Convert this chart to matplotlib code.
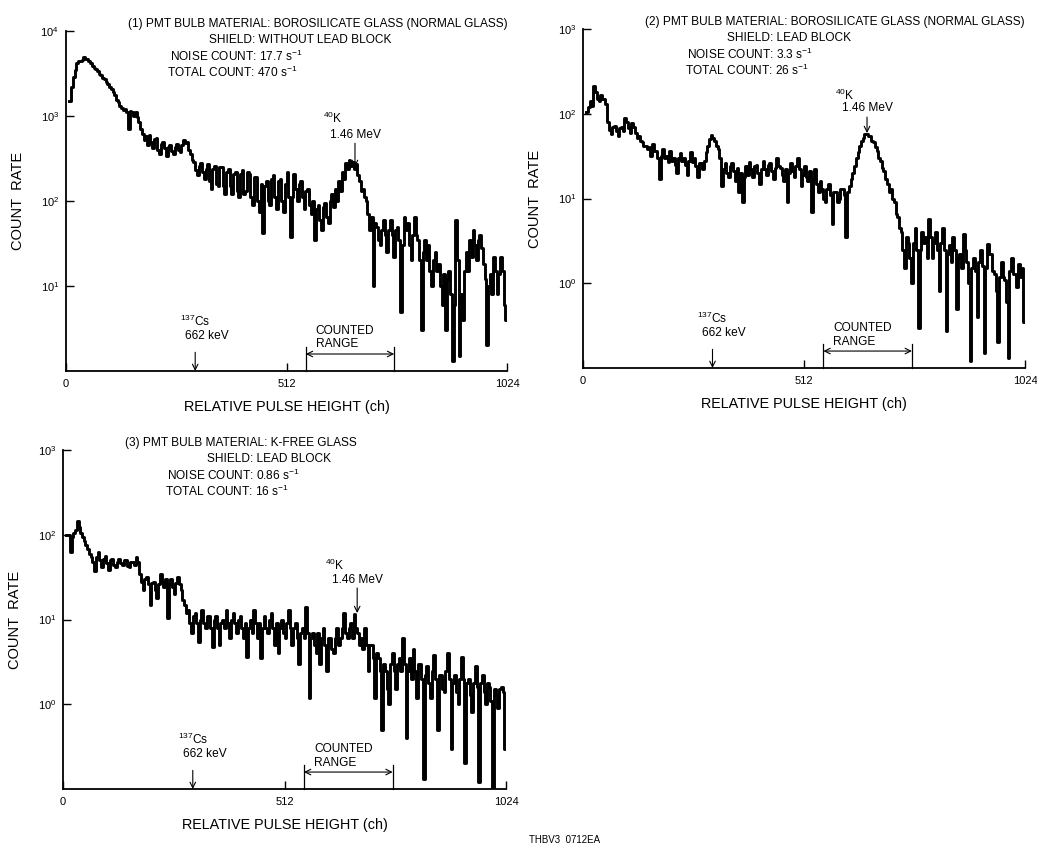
import numpy as np
import matplotlib
matplotlib.use("Agg")
import matplotlib.pyplot as plt
from matplotlib.transforms import blended_transform_factory

plt.rcParams['font.family'] = ['Liberation Sans', 'DejaVu Sans']
plt.rcParams['mathtext.fontset'] = 'custom'
plt.rcParams['mathtext.rm'] = 'Liberation Sans'
plt.rcParams['mathtext.it'] = 'Liberation Sans:italic'
plt.rcParams['mathtext.bf'] = 'Liberation Sans:bold'
plt.rcParams['mathtext.default'] = 'regular'

# spectra, 4 channel bins starting at ch 8
bin_start = 8
bin_width = 4

counts_1 = [1500, 2200, 2900, 3500, 4200, 4400, 4400, 4600, 4900, 4700, 4700, 4400, 4200, 3900, 3700, 3600,
            3400, 3100, 3000, 2800, 2700, 2500, 2400, 2200, 2100, 1900, 1750, 1550, 1450, 1300, 1250, 1180,
            1200, 1100, 700, 1150, 1120, 1000, 1100, 980, 850, 700, 620, 520, 580, 450, 600, 500,
            420, 540, 550, 400, 360, 470, 500, 420, 340, 430, 460, 390, 360, 430, 470, 400,
            380, 450, 520, 480, 490, 400, 360, 300, 290, 230, 200, 260, 280, 220, 180, 240,
            270, 170, 140, 240, 260, 160, 150, 250, 250, 150, 120, 220, 240, 150, 120, 210,
            220, 130, 110, 210, 230, 120, 130, 220, 210, 110, 90, 190, 190, 100, 75, 160,
            42, 150, 170, 100, 90, 180, 200, 110, 80, 170, 180, 100, 75, 160, 220, 110,
            38, 110, 210, 140, 100, 160, 170, 110, 80, 130, 140, 90, 70, 100, 35, 80,
            90, 60, 45, 85, 95, 65, 55, 100, 120, 85, 140, 100, 170, 130, 220, 180,
            280, 240, 300, 260, 290, 240, 270, 200, 170, 130, 140, 110, 100, 70, 45, 65,
            10, 55, 50, 35, 30, 45, 60, 40, 25, 45, 60, 40, 22, 45, 50, 35,
            5, 30, 65, 45, 55, 30, 20, 40, 65, 40, 35, 20, 3, 25, 35, 20,
            30, 15, 10, 20, 25, 15, 18, 10, 6, 14, 3, 12, 15, 8, 1.3, 6,
            60, 20, 1.5, 8, 4, 15, 25, 15, 35, 22, 45, 30, 20, 35, 40, 28,
            18, 12, 2, 10, 14, 8, 22, 15, 8, 14, 22, 15, 6, 4]

counts_2 = [105, 120, 140, 125, 210, 180, 150, 140, 165, 150, 150, 130, 80, 65, 58, 70,
            72, 62, 55, 68, 70, 62, 88, 80, 68, 60, 78, 70, 60, 52, 55, 48,
            47, 42, 42, 38, 40, 32, 44, 36, 36, 30, 17, 32, 38, 30, 32, 27,
            36, 28, 30, 25, 20, 30, 34, 28, 30, 25, 19, 28, 35, 27, 30, 24,
            18, 26, 26, 22, 28, 35, 42, 50, 56, 52, 48, 42, 38, 30, 14, 22,
            26, 20, 18, 24, 26, 21, 16, 23, 12, 20, 9, 18, 24, 19, 27, 22,
            18, 24, 25, 20, 15, 22, 28, 22, 19, 25, 26, 21, 17, 23, 30, 24,
            23, 19, 16, 22, 9, 20, 26, 21, 18, 24, 30, 22, 14, 19, 24, 18,
            16, 21, 7, 17, 22, 15, 12, 16, 13, 10, 9, 13, 15, 11, 5, 12,
            12, 9, 10, 13, 13, 11, 3.5, 12, 14, 17, 20, 24, 30, 35, 42, 48,
            52, 58, 58, 55, 54, 48, 46, 40, 36, 30, 28, 23, 21, 17, 15, 12,
            13, 10, 9, 6.5, 6, 4.5, 4, 2.5, 1.5, 3.5, 3, 2, 1, 3, 4.5, 2.5,
            0.3, 2.5, 4, 3, 3.5, 2, 5.8, 3.5, 2, 3, 4, 2.5, 0.8, 3, 4.5, 2.5,
            0.27, 2.2, 2.8, 1.8, 3.5, 2.5, 0.5, 2, 2.2, 1.5, 3.8, 2.5, 1.8, 1, 0.12, 1.5,
            2, 1.4, 0.4, 1.8, 2.5, 1.6, 0.15, 1.5, 2.9, 2.2, 2.2, 1.4, 1.3, 0.8, 0.2, 1.2,
            1.8, 1.2, 1.1, 0.6, 0.13, 1.4, 2, 1.3, 1.3, 0.9, 1.7, 1.2, 1.5, 0.35]

counts_3 = [100, 98, 62, 95, 105, 115, 145, 125, 105, 95, 85, 75, 68, 60, 55, 48,
            37, 55, 62, 50, 42, 52, 56, 46, 38, 50, 52, 44, 42, 48, 52, 46,
            44, 50, 50, 43, 42, 48, 48, 44, 55, 48, 34, 28, 22, 30, 32, 26,
            15, 27, 28, 22, 18, 26, 34, 28, 24, 30, 10.5, 26, 30, 24, 20, 27,
            32, 26, 22, 17, 15, 12, 13, 9, 7, 11, 12, 9, 5.5, 10, 13, 9,
            8, 11, 11, 8, 4.7, 10, 11, 8, 5, 9, 10, 8, 13, 9, 6, 10,
            12, 9, 7, 10, 11, 8, 6, 9, 3.6, 8, 10, 7, 13, 9, 6, 9,
            3.5, 8, 11, 8, 7, 10, 12, 8, 5, 9, 4, 8, 10, 7, 6, 9,
            13, 8, 5, 8, 9, 6, 3, 7, 8, 6, 14, 7, 1.2, 6, 7, 5,
            4, 7, 3, 6, 8, 5, 2.5, 6, 6, 4.5, 4, 6, 8, 5, 6, 8,
            12, 7, 6, 8, 9, 6, 11.5, 8, 7, 5, 6, 4.5, 8, 5, 2.5, 5,
            5, 3.5, 1.2, 4, 3.5, 2.5, 0.5, 3, 2.5, 1.5, 1, 3, 4, 2.5, 1.5, 3,
            3.5, 2.5, 6, 3, 0.4, 2.5, 3.5, 2, 4.5, 2.5, 1.2, 3, 3, 2, 0.13, 2.2,
            2.8, 1.8, 1.2, 2.5, 3.8, 2, 0.5, 2.2, 2.2, 1.5, 1.4, 2.5, 4, 2, 0.3, 1.8,
            2.2, 1.4, 1, 2, 3.6, 2, 0.2, 1.8, 2, 1.3, 0.8, 1.8, 2.8, 1.6, 0.12, 1.8,
            2.2, 1.4, 1, 1.8, 1.6, 1.1, 0.1, 1.5, 1.3, 0.9, 1.5, 1.6, 1.4, 0.3]

titles = ["(1) PMT BULB MATERIAL: BOROSILICATE GLASS (NORMAL GLASS)",
          "(2) PMT BULB MATERIAL: BOROSILICATE GLASS (NORMAL GLASS)",
          "(3) PMT BULB MATERIAL: K-FREE GLASS"]
shields = ["SHIELD: WITHOUT LEAD BLOCK", "SHIELD: LEAD BLOCK", "SHIELD: LEAD BLOCK"]
noise = ["17.7", "3.3", "0.86"]
total = ["470", "26", "16"]
ylims = [(1, 1e4), (0.1, 1e3), (0.1, 1e3)]
k_channel = [671, 658, 680]
cs_channel = 300
counted = (557, 762)

W, H = 1037, 856
fig = plt.figure(figsize=(W / 100, H / 100), dpi=100)
# axes boxes in pixels: left, bottom, width, height
boxes = [(66, 371, 441, 340), (583, 368, 442, 339), (63, 789, 443, 339)]
k_y = [(0.744, 0.694, 0.67, 0.60), (0.805, 0.767, 0.74, 0.693), (0.661, 0.617, 0.593, 0.519)]

for i, counts in enumerate([counts_1, counts_2, counts_3]):
    l, b, w, h = boxes[i]
    ax = fig.add_axes([l / W, 1 - b / H, w / W, h / H])
    counts = np.array(counts)
    edges = bin_start + bin_width * np.arange(len(counts) + 1)
    ax.step(edges, np.append(counts, counts[-1]), where='post', color='black', lw=2.1)

    ax.set_yscale('log')
    ax.set_xlim(0, 1024)
    ax.set_ylim(*ylims[i])
    lo = int(np.log10(ylims[i][0]))
    hi = int(np.log10(ylims[i][1]))
    dec = list(range(lo + 1, hi + 1))
    ax.set_yticks([10.0 ** d for d in dec])
    ax.set_yticklabels([r'$10^{%d}$' % d for d in dec])
    ax.minorticks_off()
    ax.set_xticks([0, 512, 1024])
    ax.set_xticklabels(['0', '512', '1024'])
    ax.tick_params(direction='in', length=6, width=1, labelsize=8, pad=6)
    ax.tick_params(axis='y', pad=5)
    for s in ['top', 'right']:
        ax.spines[s].set_visible(False)
    for s in ['left', 'bottom']:
        ax.spines[s].set_linewidth(1.3)

    ax.set_xlabel('RELATIVE PULSE HEIGHT (ch)', fontsize=10.4, labelpad=8)
    ax.set_ylabel('COUNT  RATE', fontsize=10.5, labelpad=11)

    # header
    ax.text(0.14, 1.02, titles[i], transform=ax.transAxes, fontsize=8.6, va='center', ha='left')
    ax.text(0.325, 0.973, shields[i], transform=ax.transAxes, fontsize=8.6, va='center', ha='left')
    ax.text(0.235, 0.926, 'NOISE COUNT: %s s$^{-1}$' % noise[i], transform=ax.transAxes,
            fontsize=8.6, va='center', ha='left')
    ax.text(0.23, 0.878, 'TOTAL COUNT: %s s$^{-1}$' % total[i], transform=ax.transAxes,
            fontsize=8.6, va='center', ha='left')

    tr = blended_transform_factory(ax.transData, ax.transAxes)

    # 137Cs marker
    ax.text(cs_channel, 0.145, r'$^{137}$Cs', transform=tr, fontsize=8.6, ha='center', va='center')
    ax.text(cs_channel + 27, 0.103, '662 keV', transform=tr, fontsize=8.6, ha='center', va='center')
    ax.annotate('', xy=(cs_channel, 0), xytext=(cs_channel, 0.055), xycoords=tr, textcoords=tr,
                arrowprops=dict(arrowstyle='->', lw=0.8, color='black', shrinkA=0, shrinkB=0))

    # 40K marker
    ky = k_y[i]
    kc = k_channel[i]
    ax.text(kc - 75, ky[0], r'$^{40}$K', transform=tr, fontsize=8.6, ha='left', va='center')
    ax.text(kc, ky[1], '1.46 MeV', transform=tr, fontsize=8.6, ha='center', va='center')
    ax.annotate('', xy=(kc, ky[3]), xytext=(kc, ky[2]), xycoords=tr, textcoords=tr,
                arrowprops=dict(arrowstyle='->', lw=0.8, color='black', shrinkA=0, shrinkB=0))

    # counted range
    for c in counted:
        ax.plot([c, c], [0, 0.072], transform=tr, color='black', lw=0.9, clip_on=False)
    ax.annotate('', xy=(counted[0], 0.05), xytext=(counted[1], 0.05), xycoords=tr, textcoords=tr,
                arrowprops=dict(arrowstyle='<->', lw=0.8, color='black', shrinkA=0, shrinkB=0))
    ax.text(580, 0.118, 'COUNTED', transform=tr, fontsize=8.6, ha='left', va='center')
    ax.text(580, 0.078, 'RANGE', transform=tr, fontsize=8.6, ha='left', va='center')

fig.text(565 / W, 1 - 840 / H, 'THBV3  0712EA', fontsize=7, ha='center', va='center')

fig.savefig('out.png', dpi=100)
